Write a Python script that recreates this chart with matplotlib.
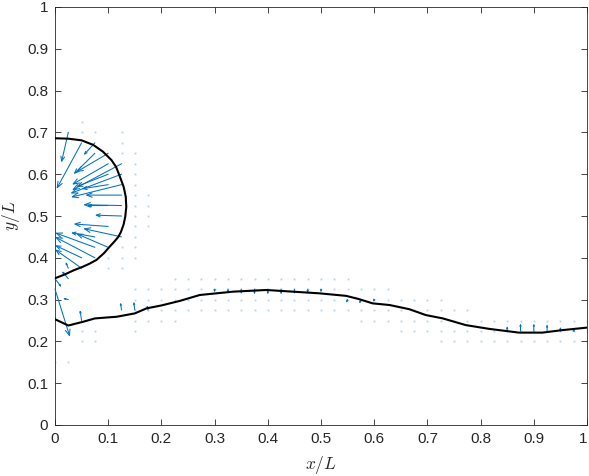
import numpy as np
import matplotlib
matplotlib.use('Agg')
import matplotlib.pyplot as plt

# ---------------- data ----------------
# droplet interface
drop_x = [0.000, 0.025, 0.050, 0.072, 0.090, 0.106, 0.115, 0.122, 0.129, 0.133,
          0.134, 0.132, 0.129, 0.124, 0.119, 0.111, 0.103, 0.092, 0.078, 0.065,
          0.053, 0.035, 0.018, 0.000]
drop_y = [0.686, 0.685, 0.681, 0.670, 0.654, 0.634, 0.617, 0.594, 0.570, 0.546,
          0.522, 0.498, 0.480, 0.462, 0.450, 0.438, 0.427, 0.411, 0.395, 0.386,
          0.379, 0.370, 0.360, 0.351]

# lower (wavy) interface
wave_x = [0.000, 0.025, 0.053, 0.075, 0.116, 0.150, 0.172, 0.200, 0.235, 0.272,
          0.335, 0.397, 0.447, 0.497, 0.547, 0.572, 0.597, 0.629, 0.666, 0.697,
          0.729, 0.772, 0.816, 0.872, 0.916, 0.954, 1.000]
wave_y = [0.253, 0.238, 0.247, 0.255, 0.259, 0.267, 0.279, 0.286, 0.297, 0.311,
          0.319, 0.323, 0.319, 0.315, 0.309, 0.301, 0.291, 0.287, 0.277, 0.263,
          0.255, 0.239, 0.230, 0.221, 0.221, 0.227, 0.233]

# velocity arrows (tail position and components)
arrow_x = [0.025, 0.050, 0.075, 0.075, 0.100, 0.100, 0.125, 0.125, 0.100, 0.125,
           0.100, 0.125, 0.125, 0.100, 0.125, 0.100, 0.125, 0.100, 0.075, 0.075,
           0.050, 0.050, 0.025, 0.075,
           0.000, 0.000, 0.025, 0.025, 0.050, 0.125, 0.150, 0.175,
           0.300, 0.325, 0.350, 0.375, 0.400, 0.425, 0.450, 0.475, 0.500,
           0.550, 0.575, 0.600,
           0.850, 0.875, 0.900, 0.925, 0.950, 0.975]
arrow_y = [0.700, 0.675, 0.675, 0.650, 0.650, 0.625, 0.625, 0.600, 0.600, 0.575,
           0.575, 0.550, 0.525, 0.525, 0.500, 0.475, 0.450, 0.425, 0.425, 0.400,
           0.400, 0.375, 0.375, 0.450,
           0.325, 0.350, 0.350, 0.300, 0.250, 0.275, 0.275, 0.275,
           0.325, 0.325, 0.325, 0.325, 0.325, 0.325, 0.325, 0.325, 0.325,
           0.300, 0.300, 0.300,
           0.225, 0.225, 0.225, 0.225, 0.225, 0.225]
arrow_u = [-0.013, -0.047, -0.021, -0.040, -0.060, -0.068, -0.093, -0.096, -0.060, -0.095,
           -0.050, -0.068, -0.072, -0.040, -0.050, -0.065, -0.072, -0.060, -0.075, -0.075,
           -0.050, -0.050, -0.005, -0.045,
           0.028, 0.012, -0.012, -0.010, -0.003, -0.002, -0.002, -0.002,
           0.000, 0.000, 0.000, 0.000, 0.000, 0.000, 0.000, 0.000, 0.000,
           -0.003, -0.003, -0.002,
           0.000, 0.000, 0.000, 0.000, 0.000, 0.000]
arrow_v = [-0.072, -0.110, -0.029, -0.050, -0.045, -0.050, -0.063, -0.046, -0.030, -0.030,
           -0.010, 0.000, 0.002, 0.000, 0.002, 0.006, 0.020, 0.033, 0.035, 0.050,
           0.030, 0.045, 0.015, 0.010,
           -0.114, -0.020, 0.018, 0.003, 0.025, 0.018, 0.020, 0.012,
           -0.008, -0.010, -0.012, -0.013, -0.013, -0.013, -0.012, -0.010, -0.008,
           -0.008, -0.010, -0.006,
           0.012, 0.018, 0.018, 0.016, 0.010, 0.006]

# near-zero vectors (drawn as dots): grid column x and y-range of dots
dot_col_x  = [0.000, 0.025, 0.050, 0.075, 0.100, 0.125, 0.125, 0.150, 0.150, 0.175,
              0.200, 0.225, 0.250, 0.275, 0.300, 0.325, 0.350, 0.375, 0.400, 0.425,
              0.450, 0.475, 0.500, 0.525, 0.550, 0.575, 0.600, 0.625, 0.650, 0.675,
              0.700, 0.725, 0.750, 0.775, 0.800, 0.825, 0.850, 0.875, 0.900, 0.925,
              0.950, 0.975, 1.000, 0.175, 0.050, 0.075]
dot_col_lo = [0.150, 0.150, 0.200, 0.200, 0.375, 0.375, 0.650, 0.225, 0.400, 0.250,
              0.250, 0.250, 0.275, 0.275, 0.275, 0.275, 0.275, 0.275, 0.275, 0.275,
              0.275, 0.275, 0.275, 0.275, 0.275, 0.250, 0.250, 0.250, 0.225, 0.225,
              0.225, 0.200, 0.200, 0.200, 0.200, 0.200, 0.200, 0.200, 0.200, 0.200,
              0.200, 0.200, 0.200, 0.475, 0.700, 0.700]
dot_col_hi = [0.150, 0.150, 0.225, 0.225, 0.400, 0.425, 0.700, 0.325, 0.650, 0.325,
              0.325, 0.350, 0.350, 0.350, 0.350, 0.350, 0.350, 0.350, 0.350, 0.350,
              0.350, 0.350, 0.350, 0.350, 0.350, 0.325, 0.325, 0.325, 0.300, 0.300,
              0.300, 0.300, 0.275, 0.275, 0.250, 0.250, 0.250, 0.250, 0.250, 0.250,
              0.250, 0.250, 0.250, 0.550, 0.725, 0.700]
grid_step = 0.025

tick_vals = [0, 0.1, 0.2, 0.3, 0.4, 0.5, 0.6, 0.7, 0.8, 0.9, 1]
tick_labels = ['0', '0.1', '0.2', '0.3', '0.4', '0.5', '0.6', '0.7', '0.8', '0.9', '1']

# ---------------- figure ----------------
plt.rcParams['font.family'] = ['Liberation Sans', 'DejaVu Sans']
plt.rcParams['mathtext.fontset'] = 'cm'

W, H = 589, 476
fig = plt.figure(figsize=(W / 100, H / 100), dpi=100)
ax = fig.add_axes([55 / W, 51 / H, 532 / W, 418 / H])
ax.set_xlim(0, 1)
ax.set_ylim(0, 1)

qc = '#0072BD'

# dots
dx, dy = [], []
for cx, lo, hi in zip(dot_col_x, dot_col_lo, dot_col_hi):
    n = int(round((hi - lo) / grid_step)) + 1
    for k in range(n):
        dx.append(cx)
        dy.append(lo + k * grid_step)
ax.plot(dx, dy, linestyle='none', marker='s', ms=1.3, color=qc, alpha=0.3,
        mec='none', zorder=2)

# arrows
px_per_x = 532.0
px_per_y = 418.0
for x, y, u, v in zip(arrow_x, arrow_y, arrow_u, arrow_v):
    Lpx = np.hypot(u * px_per_x, v * px_per_y)
    hl = max(1.5, min(6.0, 0.15 * Lpx)) / 1.389  # points
    hw = hl * 0.4
    ax.annotate('', xy=(x + u, y + v), xytext=(x, y),
                arrowprops=dict(arrowstyle=f'->,head_length={hl:.2f},head_width={hw:.2f}',
                                color=qc, lw=0.75, shrinkA=0, shrinkB=0,
                                mutation_scale=1),
                zorder=3, annotation_clip=False)

# interfaces
ax.plot(drop_x, drop_y, color='black', lw=1.5, zorder=4)
ax.plot(wave_x, wave_y, color='black', lw=1.5, zorder=4)

# axes styling (MATLAB-like)
ac = '#262626'
for s in ax.spines.values():
    s.set_color(ac)
    s.set_linewidth(0.6)
ax.set_xticks(tick_vals)
ax.set_xticklabels(tick_labels)
ax.set_yticks(tick_vals)
ax.set_yticklabels(tick_labels)
ax.tick_params(direction='in', top=True, right=True, length=4.2, width=0.6,
               colors=ac, labelsize=11)
ax.tick_params(axis='x', pad=5)
ax.tick_params(axis='y', pad=5)
xt = ax.get_xticklabels()
xt[-1].set_horizontalalignment('right')
xt[-1].set_x(1.0)
ax.set_xlabel(r'$x/L$', fontsize=12.5, color=ac)
ax.set_ylabel(r'$y/L$', fontsize=12.5, color=ac)
ax.xaxis.set_label_coords(0.5, -40 / 418)
ax.yaxis.set_label_coords(-44 / 532, 0.5)
ax.xaxis.label.set_verticalalignment('center')
ax.yaxis.label.set_verticalalignment('center')

fig.savefig('out.png', dpi=100)
